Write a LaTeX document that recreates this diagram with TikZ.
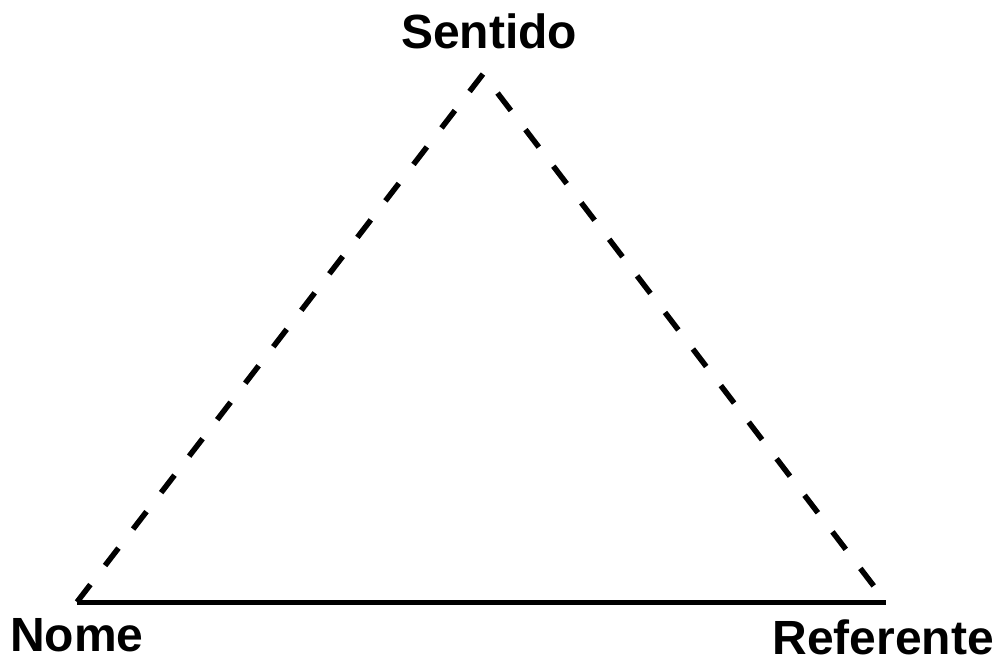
\documentclass[tikz,border=0pt]{standalone}
\usepackage{fontspec}
\setmainfont{Liberation Sans}
\usetikzlibrary{positioning}

\begin{document}
\begin{tikzpicture}[x=1pt,y=-1pt,
    vlabel/.style={font=\fontsize{48}{52}\selectfont\bfseries,inner sep=0pt},
    senseline/.style={line width=5.5pt,dash pattern=on 22pt off 24pt}]
      \useasboundingbox (0,0) rectangle (999,657);
      \coordinate (top) at (483,74);
      \coordinate (left) at (77,602);
      \coordinate (right) at (886,602);
      \draw[senseline] (left)--(top)--(right);
      \draw[line width=5pt] (left)--(right);
      \node[vlabel,anchor=base west] (sentido) at (401,48) {Sentido};
      \node[vlabel,anchor=base west] (nome) at (10,651) {Nome};
      \node[vlabel,anchor=base east] (referente) at (994,654) {Referente};
    \end{tikzpicture}
\end{document}
